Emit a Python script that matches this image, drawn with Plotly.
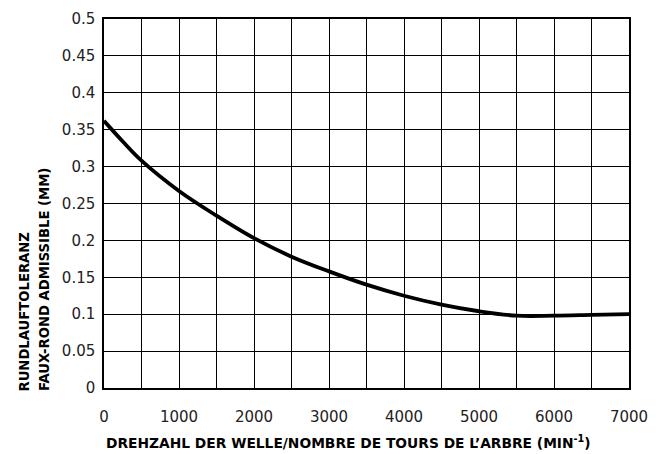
import plotly.graph_objects as go

# Data
speed_rpm = [0, 250, 500, 1000, 1500, 2000, 2500, 3000, 3500, 4000, 4500, 5000, 5500, 6000, 6500, 7000]
tolerance_mm = [0.362, 0.334, 0.308, 0.267, 0.2335, 0.203, 0.178, 0.158, 0.140, 0.125, 0.113, 0.104, 0.098, 0.098, 0.099, 0.100]

x_tick_vals = [0, 1000, 2000, 3000, 4000, 5000, 6000, 7000]
x_tick_text = ["0", "1000", "2000", "3000", "4000", "5000", "6000", "7000"]
y_tick_vals = [0, 0.05, 0.1, 0.15, 0.2, 0.25, 0.3, 0.35, 0.4, 0.45, 0.5]
y_tick_text = ["0", "0.05", "0.1", "0.15", "0.2", "0.25", "0.3", "0.35", "0.4", "0.45", "0.5"]

x_title = "DREHZAHL DER WELLE/NOMBRE DE TOURS DE L’ARBRE (MIN<sup>-1</sup>)"
y_title_1 = "RUNDLAUFTOLERANZ"
y_title_2 = "FAUX-ROND ADMISSIBLE (MM)"

L, R, T, B = 104, 38, 19, 66
W, H = 667, 454
PW, PH = W - L - R, H - T - B

fig = go.Figure()
fig.add_trace(go.Scatter(
    x=speed_rpm, y=tolerance_mm, mode="lines",
    line=dict(color="black", width=3.8, shape="spline", smoothing=1.0),
    showlegend=False, hoverinfo="skip",
))

tick_font = dict(family="DejaVu Sans", size=15, color="#222")
xt_font = dict(family="DejaVu Sans", size=13.8, color="black", weight="bold")
yt_font = dict(family="DejaVu Sans", size=13.2, color="black", weight="bold")

fig.update_layout(
    width=W, height=H,
    margin=dict(l=L, r=R, t=T, b=B, autoexpand=False),
    paper_bgcolor="white", plot_bgcolor="white",
    xaxis=dict(
        range=[0, 7000], tickvals=x_tick_vals, ticktext=x_tick_text,
        showgrid=True, gridcolor="black", gridwidth=1.2,
        minor=dict(dtick=500, tick0=0, showgrid=True, gridcolor="black", gridwidth=1.2),
        showline=True, linecolor="black", linewidth=1.5, mirror=True,
        ticks="outside", ticklen=14, tickcolor="rgba(0,0,0,0)",
        tickfont=tick_font, zeroline=False, fixedrange=True, automargin=False,
    ),
    yaxis=dict(
        range=[0, 0.5], tickvals=y_tick_vals, ticktext=y_tick_text,
        showgrid=True, gridcolor="black", gridwidth=1.2,
        showline=True, linecolor="black", linewidth=1.5, mirror=True,
        ticks="outside", ticklen=4, tickcolor="rgba(0,0,0,0)",
        tickfont=tick_font, zeroline=False, fixedrange=True, automargin=False,
    ),
    annotations=[
        dict(text=x_title, xref="paper", yref="paper", x=0.0, y=-53.5 / PH,
             xanchor="left", yanchor="middle", showarrow=False, font=xt_font),
        dict(text=y_title_1, xref="paper", yref="paper", x=(24 - L) / PW, y=-5 / PH,
             xanchor="center", yanchor="bottom", textangle=-90, showarrow=False, font=yt_font),
        dict(text=y_title_2, xref="paper", yref="paper", x=(44.5 - L) / PW, y=-5 / PH,
             xanchor="center", yanchor="bottom", textangle=-90, showarrow=False, font=yt_font),
    ],
)

fig.write_html(
    "out.html",
    config={"displayModeBar": False},
    post_script="document.body.style.margin='0';document.body.style.padding='0';",
)
